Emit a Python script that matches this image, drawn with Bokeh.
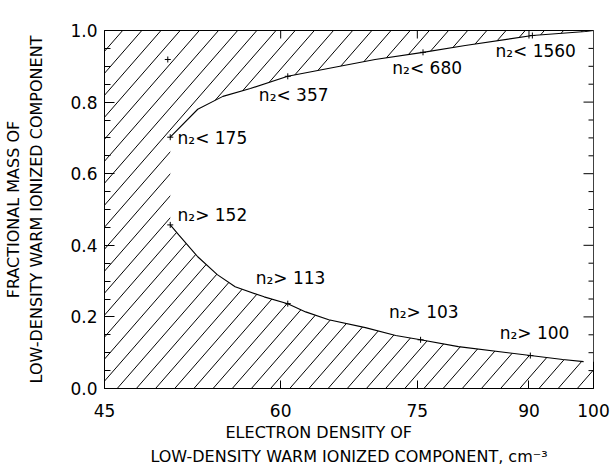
import numpy as np
from bokeh.plotting import figure
from bokeh.models import Range1d, LinearScale, FixedTicker, PrintfTickFormatter, Title
from bokeh.core.properties import value
from bokeh.embed import file_html
from bokeh.resources import INLINE

# ---- data ----
x_ticks = [45, 60, 75, 90, 100]
y_ticks = [0.0, 0.2, 0.4, 0.6, 0.8, 1.0]
y_minor = [0.05, 0.10, 0.15, 0.25, 0.30, 0.35, 0.45, 0.50, 0.55, 0.65, 0.70, 0.75, 0.85, 0.90, 0.95]

upper_x = [50.1, 52.4, 54.6, 57.1, 60.7, 70.0, 75.7, 81.1, 90.5, 98.7, 100.0]
upper_y = [0.702, 0.780, 0.816, 0.838, 0.872, 0.919, 0.939, 0.958, 0.986, 0.997, 1.0]

lower_x = [50.1, 50.8, 52.4, 54.1, 55.7, 58.4, 60.7, 62.5, 64.9, 68.9, 72.4, 75.4, 80.2, 90.2, 95.1, 98.4]
lower_y = [0.457, 0.429, 0.368, 0.318, 0.284, 0.256, 0.237, 0.214, 0.192, 0.170, 0.148, 0.136, 0.117, 0.092, 0.081, 0.075]

mark_x = [50.1, 60.7, 75.7, 90.5, 50.1, 60.7, 75.4, 90.2, 49.9]
mark_y = [0.702, 0.872, 0.939, 0.986, 0.457, 0.237, 0.136, 0.092, 0.919]

label_text = ["n\u2082< 175", "n\u2082< 357", "n\u2082< 680", "n\u2082< 1560",
              "n\u2082> 152", "n\u2082> 113", "n\u2082> 103", "n\u2082> 100"]
label_x = [50.7, 57.9, 72.0, 85.2, 50.7, 57.6, 71.6, 85.8]
label_y = [0.699, 0.819, 0.894, 0.944, 0.485, 0.309, 0.214, 0.156]

x_title_1 = "ELECTRON DENSITY OF"
x_title_2 = "LOW-DENSITY WARM IONIZED COMPONENT, cm\u207b\u00b3"
y_title_1 = "FRACTIONAL MASS OF"
y_title_2 = "LOW-DENSITY WARM IONIZED COMPONENT"

# ---- styling ----
FONT = "DejaVu Sans"
FW, FH = 489, 359
HATCH_STEP = 19.17
HATCH_SLOPE = 1.15
HATCH_PHASE = 12.7

p = figure(width=610, height=467, x_axis_type="log",
           x_range=Range1d(x_ticks[0], x_ticks[-1]), y_range=Range1d(y_ticks[0], y_ticks[-1]),
           output_backend="svg", toolbar_location=None,
           min_border_left=104, min_border_right=17, min_border_top=30, min_border_bottom=78)
p.background_fill_color = "white"
p.border_fill_color = "white"
p.outline_line_color = "black"
p.outline_line_width = 1
p.grid.visible = False

# hatch texture, drawn in a linear pixel-like frame space
p.extra_x_ranges = {"px": Range1d(0, FW)}
p.extra_y_ranges = {"py": Range1d(0, FH)}
p.extra_x_scales = {"px": LinearScale()}
p.extra_y_scales = {"py": LinearScale()}
k = np.arange(-20, 28)
x0 = HATCH_PHASE + HATCH_STEP * k
p.segment(x0=x0, y0=np.zeros_like(x0), x1=x0 + FH / HATCH_SLOPE, y1=np.full_like(x0, FH),
          x_range_name="px", y_range_name="py", line_color="black", line_width=1)

# clear (unhatched) region between the two boundaries
patch_x = lower_x + [x_ticks[-1]] + upper_x[::-1]
patch_y = lower_y + [lower_y[-1]] + upper_y[::-1]
p.patch(patch_x, patch_y, fill_color="white", line_color=None)

p.line(upper_x, upper_y, line_color="black", line_width=1.1)
p.line(lower_x, lower_y, line_color="black", line_width=1.1)
p.scatter(mark_x, mark_y, marker="cross", size=6, line_color="black", line_width=1)

p.text(x=label_x, y=label_y, text=label_text, text_font=value(FONT), text_font_size="17px",
       text_baseline="middle", text_align="left", text_color="black")

# right and top inward ticks (mirrors of left / bottom axes)
xr = [x_ticks[-1]]
p.ray(x=xr * len(y_ticks), y=y_ticks, length=10, length_units="screen", angle=np.pi,
      line_color="black", line_width=1)
p.ray(x=xr * len(y_minor), y=y_minor, length=5, length_units="screen", angle=np.pi,
      line_color="black", line_width=1)
inner_x = x_ticks[1:-1]
p.ray(x=inner_x, y=[y_ticks[-1]] * len(inner_x), length=8, length_units="screen",
      angle=-np.pi / 2, line_color="black", line_width=1)

# axes
xa = p.xaxis[0]
xa.ticker = FixedTicker(ticks=x_ticks)
xa.formatter = PrintfTickFormatter(format="%d")
xa.major_tick_in = 8
xa.major_tick_out = 0
xa.minor_tick_in = 0
xa.minor_tick_out = 0
xa.major_label_standoff = 15
xa.major_label_text_font = FONT
xa.major_label_text_font_size = "17px"
xa.major_label_text_color = "black"
xa.axis_line_color = "black"
xa.major_tick_line_color = "black"

ya = p.yaxis[0]
ya.ticker = FixedTicker(ticks=y_ticks, minor_ticks=y_minor)
ya.formatter = PrintfTickFormatter(format="%.1f")
ya.major_tick_in = 10
ya.major_tick_out = 0
ya.minor_tick_in = 6
ya.minor_tick_out = 0
ya.major_label_standoff = 7
ya.major_label_text_font = FONT
ya.major_label_text_font_size = "17px"
ya.major_label_text_color = "black"
ya.axis_label = y_title_2
ya.axis_label_text_font = FONT
ya.axis_label_text_font_size = "16px"
ya.axis_label_text_font_style = "normal"
ya.axis_label_text_color = "black"
ya.axis_label_standoff = 21
ya.axis_line_color = "black"
ya.major_tick_line_color = "black"
ya.minor_tick_line_color = "black"

def title(text, standoff, align="center", offset=0):
    return Title(text=text, align=align, offset=offset, standoff=standoff,
                 text_font=FONT, text_font_size="16px", text_font_style="normal",
                 text_color="black")

p.add_layout(title(y_title_1, 3), "left")
p.add_layout(title(x_title_1, 2, align="left", offset=121), "below")
p.add_layout(title(x_title_2, 4), "below")

open("out.html", "w").write(file_html(p, INLINE))
